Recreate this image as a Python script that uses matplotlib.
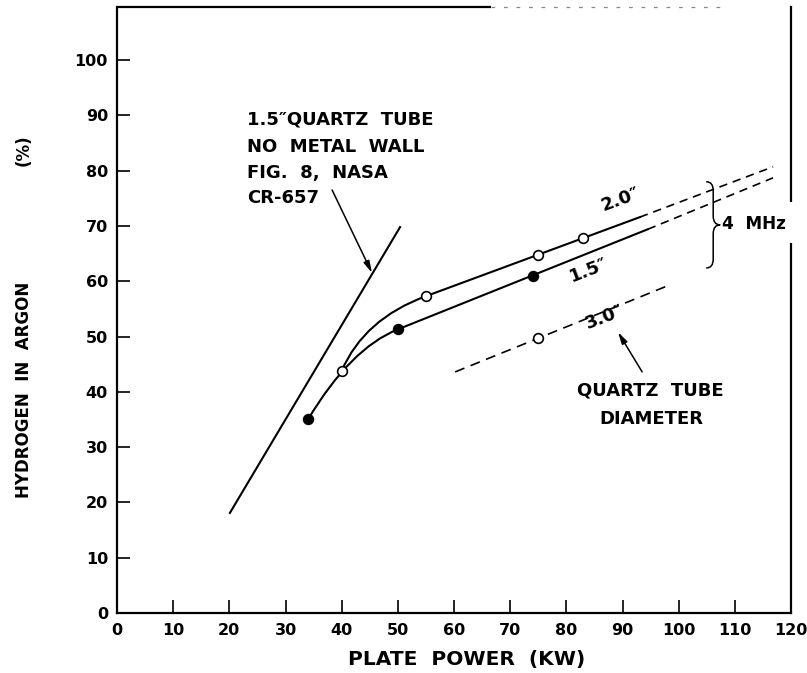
import matplotlib
matplotlib.use("Agg")
import matplotlib.pyplot as plt
from matplotlib.path import Path
from matplotlib.patches import PathPatch, Rectangle

# ---------------- data ----------------
x_ticks = list(range(0, 121, 10))
y_ticks = list(range(0, 101, 10))

# 2.0" tube (open circles)
d20_x = [40, 55, 75, 83]
d20_y = [43.8, 57.3, 64.8, 67.9]
# 1.5" tube (filled circles)
d15_x = [34, 50, 74]
d15_y = [35.0, 51.3, 60.9]
# 3.0" tube (open circle)
d30_x = [75]
d30_y = [49.8]

# traced curves: knee as quadratic Bezier (start, control, end)
knee20 = [(40, 43.8), (44, 53.2), (55, 57.3)]
knee15 = [(34, 35.0), (41.6, 47.9), (50, 51.3)]
# straight parts
line20_x = [55, 93.1]
line20_y = [57.3, 71.6]
dash20_x = [93.1, 116.8]
dash20_y = [71.6, 80.7]
line15_x = [50, 94.5]
line15_y = [51.3, 69.4]
dash15_x = [94.5, 116.8]
dash15_y = [69.4, 78.7]
dash30_x = [60.2, 97.6]
dash30_y = [43.6, 59.0]
# 1.5" quartz tube, no metal wall (NASA CR-657)
quartz_x = [20.1, 50.4]
quartz_y = [18.1, 69.8]

# ---------------- figure ----------------
fig = plt.figure(figsize=(8.07, 6.73), dpi=100)
ax = fig.add_axes([117/807, 60/673, (791-117)/807, (613-7)/673])
ax.set_xlim(0, 120)
ax.set_ylim(0, 109.6)

FONT = "DejaVu Sans"
lw = 1.5

# spines
for s in ["left", "bottom", "right"]:
    ax.spines[s].set_linewidth(1.6)
ax.spines["top"].set_visible(False)
ax.plot([0, 0.555], [1, 1], transform=ax.transAxes, color="black", lw=1.6,
        clip_on=False, solid_capstyle="butt")
ax.plot([0.555, 0.90], [1, 1], transform=ax.transAxes, color="#888888", lw=0.9,
        ls=(0, (3, 7)), clip_on=False)
# gap in right spine next to "4 MHz"
ax.add_patch(Rectangle((0.99, 66.9/109.6), 0.02, (74.3-66.9)/109.6,
                       transform=ax.transAxes, facecolor="white", edgecolor="none",
                       zorder=5, clip_on=False))

ax.set_xticks(x_ticks)
ax.set_yticks(y_ticks)
ax.set_xticklabels([str(v) for v in x_ticks], fontfamily=FONT, fontweight="bold", fontsize=11.5)
ax.set_yticklabels([str(v) for v in y_ticks], fontfamily=FONT, fontweight="bold", fontsize=11.5)
ax.tick_params(axis="both", direction="in", length=9.5, width=1.2, pad=7)
ax.tick_params(axis="y", pad=6.5)

# curves
def bez(pts):
    return Path(pts, [Path.MOVETO, Path.CURVE3, Path.CURVE3])

ax.add_patch(PathPatch(bez(knee20), fill=False, lw=lw, edgecolor="black", zorder=3))
ax.add_patch(PathPatch(bez(knee15), fill=False, lw=lw, edgecolor="black", zorder=3))
ax.plot(line20_x, line20_y, color="black", lw=lw, zorder=3)
ax.plot(line15_x, line15_y, color="black", lw=lw, zorder=3)
ax.plot(dash20_x, dash20_y, color="black", lw=1.2, dashes=(5, 3.5), zorder=3)
ax.plot(dash15_x, dash15_y, color="black", lw=1.2, dashes=(5, 3.5), zorder=3)
ax.plot(dash30_x, dash30_y, color="black", lw=1.2, dashes=(6, 4), zorder=3)
ax.plot(quartz_x, quartz_y, color="black", lw=lw, zorder=3)

# markers
ax.plot(d20_x, d20_y, ls="none", marker="o", ms=7, mfc="white", mec="black", mew=1.2, zorder=4)
ax.plot(d15_x, d15_y, ls="none", marker="o", ms=7, mfc="black", mec="black", mew=1.2, zorder=4)
ax.plot(d30_x, d30_y, ls="none", marker="o", ms=7, mfc="white", mec="black", mew=1.2, zorder=4)

# annotation text
tk = dict(fontfamily=FONT, fontweight="bold", fontsize=13, color="black")
q_lines = ["1.5\u2033QUARTZ  TUBE", "NO  METAL  WALL", "FIG.  8,  NASA", "CR-657"]
q_y = [89.2, 84.3, 79.6, 75.0]
for s, yy in zip(q_lines, q_y):
    ax.text(23.1, yy, s, ha="left", va="center", **tk)

arrow = dict(arrowstyle="-|>,head_length=0.7,head_width=0.18", color="black", lw=1.1,
             shrinkA=0, shrinkB=0)
ax.annotate("", xy=(45.4, 61.5), xytext=(38.3, 76.5), arrowprops=arrow)
ax.annotate("", xy=(89.2, 50.8), xytext=(93.5, 43.6), arrowprops=arrow)

ax.text(89.6, 74.7, "2.0\u2033", ha="center", va="center", rotation=20, **tk)
ax.text(84.0, 62.0, "1.5\u2033", ha="center", va="center", rotation=21, **tk)
ax.text(86.9, 53.5, "3.0\u2033", ha="center", va="center", rotation=21, **tk)
ax.text(94.9, 40.3, "QUARTZ  TUBE", ha="center", va="center", **tk)
ax.text(95.2, 35.1, "DIAMETER", ha="center", va="center", **tk)
ax.text(107.8, 70.4, "4  MHz", ha="left", va="center", zorder=6,
        fontfamily=FONT, fontweight="bold", fontsize=12.2, color="black")

# brace
def brace(xl, xr, yt, yb, r):
    xs = xl + (xr - xl) * 0.5
    ym = (yt + yb) / 2.0
    verts = [(xl, yt), (xs, yt), (xs, yt - r),
             (xs, ym + r),
             (xs, ym), (xr, ym),
             (xr, ym), (xs, ym), (xs, ym - r),
             (xs, yb + r),
             (xs, yb), (xl, yb)]
    codes = [Path.MOVETO, Path.CURVE3, Path.CURVE3,
             Path.LINETO,
             Path.CURVE3, Path.CURVE3,
             Path.MOVETO, Path.CURVE3, Path.CURVE3,
             Path.LINETO,
             Path.CURVE3, Path.CURVE3]
    return Path(verts, codes)

ax.add_patch(PathPatch(brace(104.9, 107.4, 78.0, 62.4, 1.6), fill=False, lw=1.1,
                       edgecolor="black", zorder=3))

# axis labels
fig.text(467/807, 1 - 660/673, "PLATE  POWER  (KW)", ha="center", va="center",
         fontfamily=FONT, fontweight="bold", fontsize=14.5)
fig.text(24/807, 1 - 390/673, "HYDROGEN  IN  ARGON", rotation=90, ha="center", va="center",
         fontfamily=FONT, fontsize=12, fontweight="semibold")
fig.text(24/807, 1 - 150/673, "(%)", rotation=90, ha="center", va="center",
         fontfamily=FONT, fontsize=12, fontweight="semibold")

fig.savefig("out.png", dpi=100)
